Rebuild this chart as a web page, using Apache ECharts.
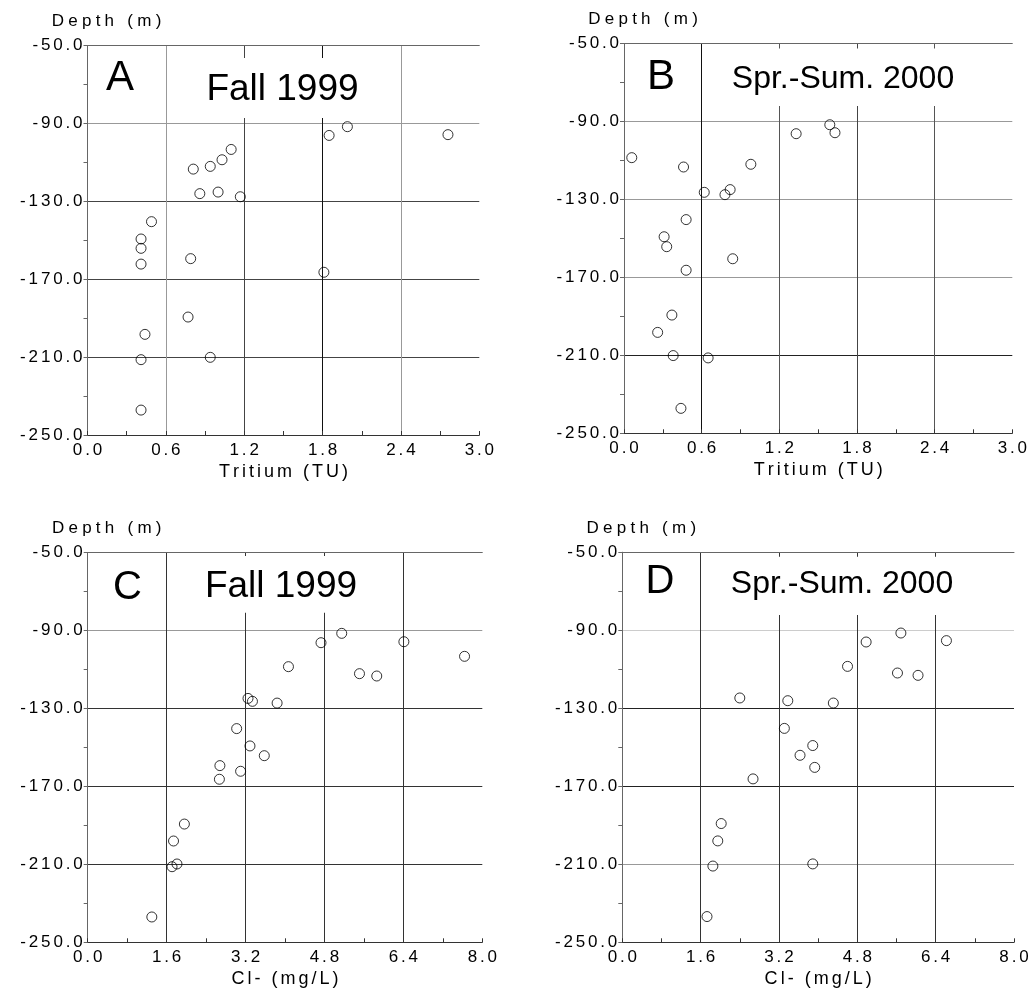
<!DOCTYPE html>
<html>
<head>
<meta charset="utf-8">
<script src="https://cdn.jsdelivr.net/npm/echarts@6/dist/echarts.min.js"></script>
<style>
  html, body { margin: 0; padding: 0; background: #fff; }
  #chart { width: 1034px; height: 994px; }
</style>
</head>
<body>
<div id="chart"></div>
<script>
// A: tritium, Fall 1999
const tritiumFall = [1.99, 1.85, 2.76, 1.10, 1.03, 0.94, 0.81, 0.86, 1.00, 1.17, 0.49,
  0.41, 0.41, 0.41, 0.79, 1.81, 0.77, 0.44, 0.41, 0.94, 0.41];
const depthTritiumFall = [-91.6, -96.1, -95.7, -103.3, -108.6, -112.0, -113.4, -126.0, -125.2, -127.6, -140.4,
  -149.3, -154.1, -162.2, -159.4, -166.4, -189.4, -198.3, -211.3, -210.1, -237.2];

// B: tritium, Spring-Summer 2000
const tritiumSpring = [0.06, 0.46, 0.98, 1.33, 1.59, 1.63, 0.62, 0.78, 0.82, 0.48, 0.31,
  0.33, 0.84, 0.48, 0.37, 0.26, 0.38, 0.65, 0.44];
const depthTritiumSpring = [-108.5, -113.3, -111.9, -96.2, -91.6, -95.7, -126.3, -127.5, -124.9, -140.3, -149.1,
  -154.2, -160.4, -166.3, -189.3, -198.2, -210.1, -211.3, -237.2];

// C: chloride, Fall 1999
const chlorideFall = [5.15, 4.73, 6.41, 7.64, 4.07, 5.51, 5.86, 3.25, 3.34, 3.84, 3.02,
  3.29, 3.58, 2.68, 3.10, 2.67, 1.96, 1.74, 1.71, 1.81, 1.30];
const depthChlorideFall = [-91.4, -96.2, -95.7, -103.2, -108.5, -112.1, -113.3, -124.8, -126.3, -127.2, -140.3,
  -149.2, -154.2, -159.3, -162.2, -166.3, -189.3, -198.0, -211.2, -209.8, -237.0];

// D: chloride, Spring-Summer 2000
const chlorideSpring = [5.69, 4.98, 6.62, 4.60, 5.62, 6.04, 2.40, 3.38, 4.31, 3.31, 3.89,
  3.63, 3.93, 2.67, 2.02, 1.95, 1.85, 3.89, 1.73];
const depthChlorideSpring = [-91.4, -96.0, -95.3, -108.5, -111.9, -113.1, -124.7, -126.1, -127.3, -140.3, -149.1,
  -154.1, -160.3, -166.2, -189.1, -198.0, -210.9, -209.8, -236.8];

// Axis ranges and tick steps
const depthMin = -250, depthMax = -50, depthStep = 40;
const tritiumMax = 3.0, tritiumStep = 0.6;
const chlorideMax = 8.0, chlorideStep = 1.6;

const FONT = '"Liberation Sans", Arial, Helvetica, sans-serif';
const HAIR = '\u200A';
// letter-spaced text: hair spaces between characters
const spaced = (s, n) => Array.from(s).join(HAIR.repeat(n));

const panels = [
  { letter: 'A', title: 'Fall 1999', titleSize: 37, letterSize: 42,
    grid: { left: 87.5, top: 45.7, width: 391.8, height: 389.3 },
    xs: tritiumFall, ys: depthTritiumFall, xMax: tritiumMax, xStep: tritiumStep, xName: 'Tritium (TU)',
    vColors: ['#999', '#444', '#111', '#999'], hColors: ['#444', '#444', '#444', '#999'],
    box: [170, 58, 395, 118], letterAt: [120, 78], titleAt: [282.5, 90] },
  { letter: 'B', title: 'Spr.-Sum. 2000', titleSize: 32, letterSize: 42,
    grid: { left: 624, top: 43.7, width: 388.3, height: 389.6 },
    xs: tritiumSpring, ys: depthTritiumSpring, xMax: tritiumMax, xStep: tritiumStep, xName: 'Tritium (TU)',
    vColors: ['#111', '#555', '#444', '#555'], hColors: ['#222', '#999', '#999', '#999'],
    box: [710, 48.5, 1011, 106], letterAt: [661, 77], titleAt: [843, 79] },
  { letter: 'C', title: 'Fall 1999', titleSize: 37, letterSize: 40,
    grid: { left: 87.7, top: 552.7, width: 394.6, height: 389.6 },
    xs: chlorideFall, ys: depthChlorideFall, xMax: chlorideMax, xStep: chlorideStep, xName: 'Cl- (mg/L)',
    vColors: ['#333', '#333', '#333', '#333'], hColors: ['#333', '#333', '#333', '#999'],
    box: [172, 556, 398, 612.7], letterAt: [127.5, 587.5], titleAt: [281, 586.7] },
  { letter: 'D', title: 'Spr.-Sum. 2000', titleSize: 32, letterSize: 40,
    grid: { left: 622.3, top: 552.3, width: 391.7, height: 390 },
    xs: chlorideSpring, ys: depthChlorideSpring, xMax: chlorideMax, xStep: chlorideStep, xName: 'Cl- (mg/L)',
    vColors: ['#333', '#333', '#333', '#333'], hColors: ['#999', '#222', '#222', '#ccc'],
    box: [706, 556.7, 1013, 615], letterAt: [660, 581.7], titleAt: [842, 584] }
];

const grids = [], xAxes = [], yAxes = [], series = [], graphics = [];
const tickText = { fontFamily: FONT, fontSize: 17, color: '#000' };

panels.forEach((p, i) => {
  grids.push(Object.assign({ containLabel: false }, p.grid));

  // bottom axis with labels, minor ticks pointing inward
  xAxes.push({
    type: 'value', gridIndex: i, position: 'bottom',
    min: 0, max: p.xMax, interval: p.xStep,
    axisLine: { show: true, lineStyle: { color: '#333', width: 1 } },
    axisTick: { show: true, inside: true, length: 4, lineStyle: { color: '#333' } },
    minorTick: { show: true, splitNumber: 2, length: 4, lineStyle: { color: '#333' } },
    splitLine: { show: true, showMinLine: false, showMaxLine: false, lineStyle: { color: p.vColors, width: 1 } },
    axisLabel: Object.assign({ margin: 7, formatter: v => spaced(v.toFixed(1), 2) }, tickText),
    name: spaced(p.xName, 2), nameLocation: 'middle', nameGap: 28,
    nameTextStyle: { fontFamily: FONT, fontSize: 18, color: '#000' }
  });
  // top frame edge
  xAxes.push({
    type: 'value', gridIndex: i, position: 'top',
    min: 0, max: p.xMax, interval: p.xStep,
    axisLine: { show: true, lineStyle: { color: '#666', width: 1 } },
    axisTick: { show: false }, axisLabel: { show: false }, splitLine: { show: false }
  });

  // left depth axis, ticks pointing outward
  yAxes.push({
    type: 'value', gridIndex: i, position: 'left',
    min: depthMin, max: depthMax, interval: depthStep,
    axisLine: { show: true, lineStyle: { color: '#666', width: 1 } },
    axisTick: { show: true, inside: false, length: 4, lineStyle: { color: '#666' } },
    minorTick: { show: true, splitNumber: 2, length: 4, lineStyle: { color: '#666' } },
    splitLine: { show: true, showMinLine: false, showMaxLine: false, lineStyle: { color: p.hColors, width: 1 } },
    axisLabel: Object.assign({ margin: 5, formatter: v => spaced(v.toFixed(1), 2) }, tickText),
    name: spaced('Depth (m)', 3), nameLocation: 'end', nameGap: 24,
    nameTextStyle: { fontFamily: FONT, fontSize: 17, color: '#000', align: 'center', verticalAlign: 'middle', padding: [0, 0, 0, 38] }
  });
  // right frame edge
  yAxes.push({
    type: 'value', gridIndex: i, position: 'right',
    min: depthMin, max: depthMax, interval: depthStep,
    axisLine: { show: true, lineStyle: { color: '#666', width: 1 } },
    axisTick: { show: false }, axisLabel: { show: false }, splitLine: { show: false }
  });

  series.push({
    type: 'scatter', xAxisIndex: 2 * i, yAxisIndex: 2 * i,
    data: p.xs.map((x, k) => [x, p.ys[k]]),
    symbol: 'circle', symbolSize: 10,
    itemStyle: { color: 'rgba(0,0,0,0)', borderColor: '#000', borderWidth: 1 },
    emphasis: { disabled: true }, silent: true
  });

  // white label panel behind the season title
  const [x0, y0, x1, y1] = p.box;
  graphics.push({
    type: 'rect', z: 10, silent: true,
    shape: { x: x0, y: y0, width: x1 - x0, height: y1 - y0 },
    style: { fill: '#fff', stroke: null }
  });
  graphics.push({
    type: 'text', z: 11, silent: true, x: p.letterAt[0], y: p.letterAt[1],
    style: { text: p.letter, fill: '#000', fontFamily: FONT, fontSize: p.letterSize, align: 'center', verticalAlign: 'middle' }
  });
  graphics.push({
    type: 'text', z: 11, silent: true, x: p.titleAt[0], y: p.titleAt[1],
    style: { text: p.title, fill: '#000', fontFamily: FONT, fontSize: p.titleSize, align: 'center', verticalAlign: 'middle' }
  });
});

const chart = echarts.init(document.getElementById('chart'), null, { renderer: 'canvas' });
chart.setOption({
  backgroundColor: '#fff',
  animation: false,
  grid: grids,
  xAxis: xAxes,
  yAxis: yAxes,
  series: series,
  graphic: graphics
});
</script>
</body>
</html>
